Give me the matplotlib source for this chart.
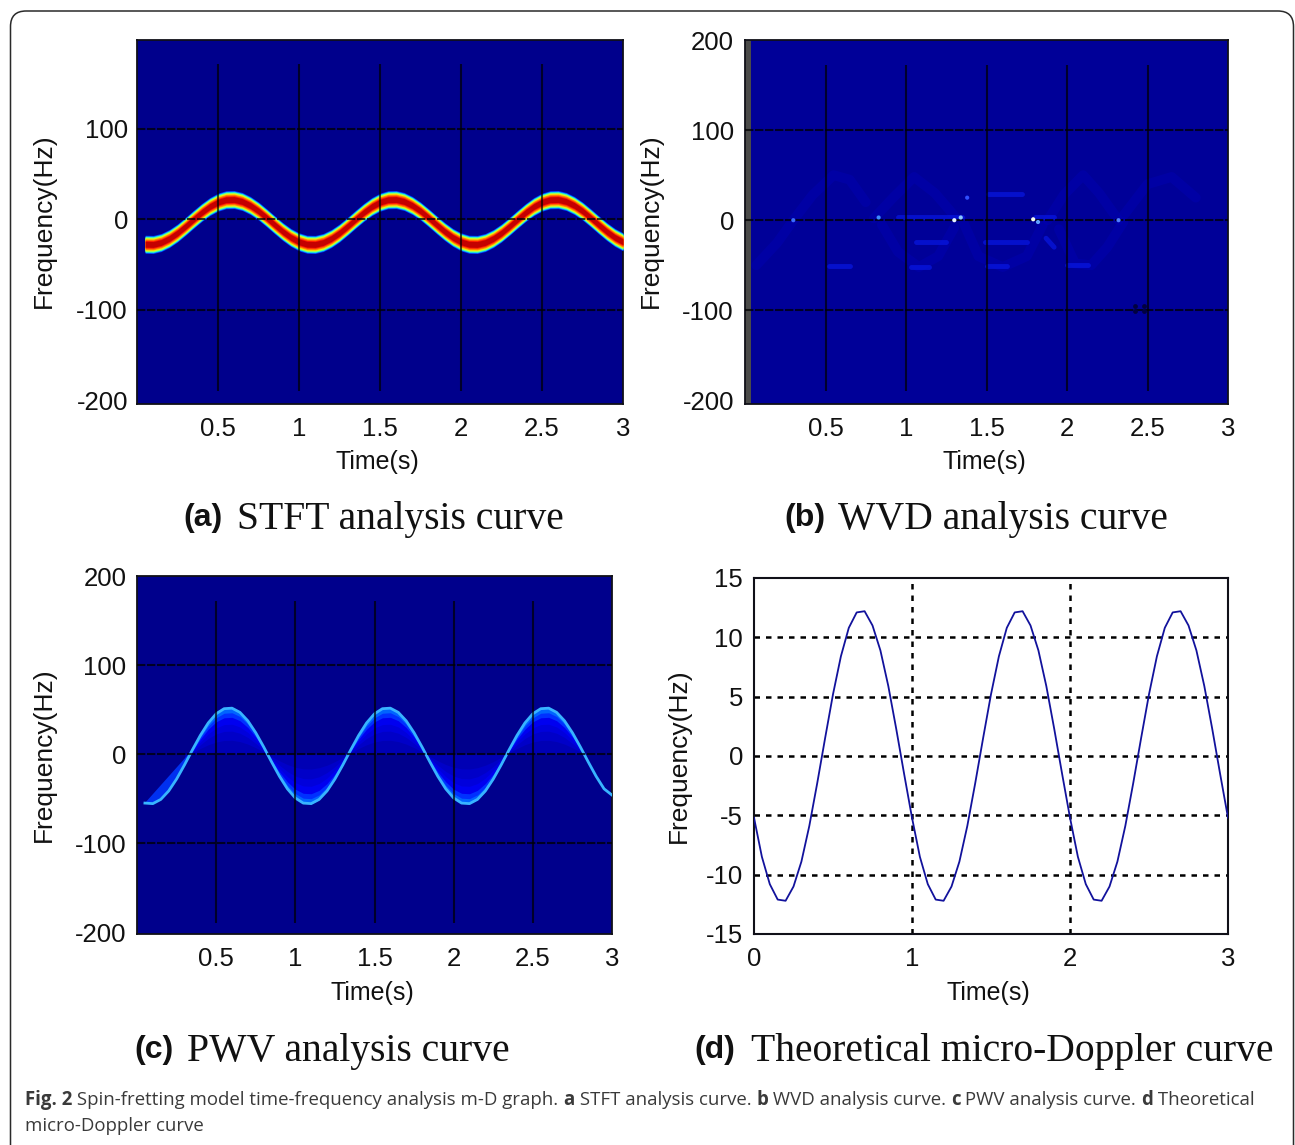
import numpy as np
import matplotlib
matplotlib.use("Agg")
import matplotlib.pyplot as plt
from matplotlib.patches import FancyBboxPatch

W, H = 1295, 1145

time_stft = [0.05 * i for i in range(1, 61)]
stft_ridge = [-27.6, -27.8, -25.6, -21.2, -15.1, -7.7, 0.1, 7.6, 14.1, 18.9, 21.6, 21.8, 19.6, 15.2, 9.1, 1.7,
              -6.1, -13.6, -20.1, -24.9, -27.6, -27.8, -25.6, -21.2, -15.1, -7.7, 0.1, 7.6, 14.1, 18.9, 21.6,
              21.8, 19.6, 15.2, 9.1, 1.7, -6.1, -13.6, -20.1, -24.9, -27.6, -27.8, -25.6, -21.2, -15.1, -7.7,
              0.1, 7.6, 14.1, 18.9, 21.6, 21.8, 19.6, 15.2, 9.1, 1.7, -6.1, -13.6, -20.1, -24.9]

pwv_ridge = [-55.0, -55.6, -50.9, -41.4, -28.0, -12.1, 4.8, 21.0, 35.0, 45.3, 51.0, 51.6, 46.9, 37.4, 24.0, 8.1,
             -8.8, -25.0, -39.0, -49.3, -55.0, -55.6, -50.9, -41.4, -28.0, -12.1, 4.8, 21.0, 35.0, 45.3, 51.0,
             51.6, 46.9, 37.4, 24.0, 8.1, -8.8, -25.0, -39.0, -49.3, -55.0, -55.6, -50.9, -41.4, -28.0, -12.1,
             4.8, 21.0, 35.0, 45.3, 51.0, 51.6, 46.9, 37.4, 24.0, 8.1, -8.8, -25.0, -39.0, -46.0]

time_theory = [0.05 * i for i in range(0, 61)]
theory_curve = [-5.2, -8.5, -10.8, -12.1, -12.2, -11.0, -8.9, -5.9, -2.3, 1.5, 5.2, 8.4, 10.8, 12.1, 12.2, 11.0,
                8.9, 5.9, 2.3, -1.5, -5.2, -8.5, -10.8, -12.1, -12.2, -11.0, -8.9, -5.9, -2.3, 1.5, 5.2, 8.4,
                10.8, 12.1, 12.2, 11.0, 8.9, 5.9, 2.3, -1.5, -5.2, -8.5, -10.8, -12.1, -12.2, -11.0, -8.9, -5.9,
                -2.3, 1.5, 5.2, 8.4, 10.8, 12.1, 12.2, 11.0, 8.9, 5.9, 2.3, -1.5, -5.2]

# faint traces in the WVD panel, (t, f)
wvd_faint = [
    ([0.07, 0.2, 0.3, 0.42, 0.55, 0.65, 0.75], [-50, -25, 0, 28, 50, 45, 20]),
    ([0.8, 0.92, 1.05, 1.18, 1.3], [2, 25, 48, 30, 5]),
    ([0.85, 0.95, 1.08, 1.2, 1.3], [-5, -35, -52, -40, -8]),
    ([1.35, 1.45, 1.6, 1.75, 1.85], [0, -40, -52, -40, -5]),
    ([1.88, 1.98, 2.1, 2.2, 2.32], [0, 28, 50, 30, 0]),
    ([1.95, 2.05, 2.15, 2.25, 2.35], [-10, -48, -50, -30, -2]),
    ([2.35, 2.5, 2.65, 2.8], [5, 40, 48, 25]),
]
wvd_bright_t = [[0.52, 0.65], [1.03, 1.14], [1.5, 1.63], [2.0, 2.13], [1.51, 1.72], [1.06, 1.25], [1.49, 1.75],
                [1.8, 1.92], [0.95, 1.35], [1.87, 1.92]]
wvd_bright_f = [[-51, -51], [-52, -52], [-51, -51], [-50, -50], [29, 29], [-24, -24], [-24, -24], [3, 3], [3, 3],
                [-20, -30]]
wvd_spots_t = [0.3, 0.83, 1.3, 1.34, 1.79, 1.82, 2.32, 1.38]
wvd_spots_f = [0, 3, 0, 3, 1, -2, 0, 25]
wvd_spots_c = ['#3c6cff', '#3c8cff', '#e8f4ff', '#8cc8ff', '#f8fff0', '#60a0ff', '#5080ff', '#3050ff']
wvd_dark_t = [2.42, 2.48, 2.42, 2.48]
wvd_dark_f = [-95, -95, -101, -101]

sgram_xticks = [0.5, 1, 1.5, 2, 2.5, 3]
sgram_xlabels = ['0.5', '1', '1.5', '2', '2.5', '3']
theory_yticks = [-15, -10, -5, 0, 5, 10, 15]

plt.rcParams['font.family'] = ['Liberation Sans', 'DejaVu Sans']
plt.rcParams['axes.unicode_minus'] = False
fig = plt.figure(figsize=(W / 100, H / 100), dpi=100, facecolor='white')


def make_axes(left, right, top, bottom):
    return fig.add_axes([left / W, 1 - bottom / H, (right - left) / W, (bottom - top) / H])


def style_axes(ax, xlim, ylim, xticks, xlabels, yticks, ypad, bg):
    ax.set_facecolor(bg)
    ax.set_xlim(*xlim)
    ax.set_ylim(*ylim)
    ax.set_xticks(xticks)
    ax.set_xticklabels(xlabels)
    ax.set_yticks(yticks)
    ax.tick_params(axis='x', length=0, labelsize=18.5, pad=9, labelcolor='#111111')
    ax.tick_params(axis='y', length=0, labelsize=18.5, pad=ypad, labelcolor='#111111')
    for s in ax.spines.values():
        s.set_linewidth(1.3)
        s.set_color('#101018')


def sgram_grid(ax, ys, xs, vmin, vmax):
    ax.hlines(ys, 0, 3, color='black', lw=1.5, alpha=0.75, linestyles=(0, (4, 0.8)), zorder=6)
    ax.vlines(xs, vmin, vmax, color='black', lw=1.5, alpha=0.7, zorder=6)


def labels(xlab_x, xlab_y, ylab_x, ylab_y):
    fig.text(xlab_x / W, 1 - xlab_y / H, 'Time(s)', fontsize=18, ha='center', va='center', color='#111111')
    fig.text(ylab_x / W, 1 - ylab_y / H, 'Frequency(Hz)', fontsize=19, rotation=90, ha='center', va='center',
             color='#111111')


def title(letter, x1, text, x2, y):
    fig.text(x1 / W, 1 - (y - 1) / H, letter, fontsize=23, fontweight='bold', va='center', ha='left', color='#111111')
    fig.text(x2 / W, 1 - y / H, text, fontsize=28.5, family='Liberation Serif', va='center', ha='left',
             color='#111111')


# (a) STFT
ax_a = make_axes(137, 623, 40, 404)
style_axes(ax_a, (0, 3), (-204, 198), sgram_xticks, sgram_xlabels, [-200, -100, 0, 100], 6.5, '#00008c')
half_widths = [10.0, 9.2, 8.5, 7.9, 7.3, 6.7, 6.0, 5.2, 4.2, 3.2]
cmap = plt.get_cmap('jet')
levels = [0.18, 0.3, 0.42, 0.5, 0.58, 0.66, 0.74, 0.8, 0.88, 0.94]
for hw, lev in zip(half_widths, levels):
    ax_a.fill_between(time_stft, np.array(stft_ridge) - hw, np.array(stft_ridge) + hw, color=cmap(lev), lw=0, zorder=3)
sgram_grid(ax_a, [-100, 0, 100], [0.5, 1, 1.5, 2, 2.5], -190, 172)
labels(377, 462, 44, 221)
title('(a)', 183, 'STFT analysis curve', 237, 519)

# (b) WVD
ax_b = make_axes(745, 1228, 40, 404)
style_axes(ax_b, (0, 3), (-204, 198), sgram_xticks, sgram_xlabels, [-200, -100, 0, 100, 200], 8, '#000098')
ax_b.axvspan(0, 0.035, color='#4a4a48', lw=0, zorder=2)
for t, f in wvd_faint:
    ax_b.plot(t, f, color='#0000b8', lw=7, alpha=0.4, zorder=3, solid_capstyle='round')
for t, f in zip(wvd_bright_t, wvd_bright_f):
    ax_b.plot(t, f, color='#0a1cf0', lw=3.5, alpha=0.6, zorder=4, solid_capstyle='round')
sgram_grid(ax_b, [-100, 0, 100], [0.5, 1, 1.5, 2, 2.5], -190, 172)
ax_b.scatter(wvd_spots_t, wvd_spots_f, s=9, c=wvd_spots_c, lw=0, zorder=7)
ax_b.scatter(wvd_dark_t, wvd_dark_f, s=12, color='#000040', lw=0, zorder=7)
labels(984, 462, 651, 221)
title('(b)', 784, 'WVD analysis curve', 838, 519)

# (c) PWV
ax_c = make_axes(137, 612, 576, 934)
style_axes(ax_c, (0, 3), (-202, 200), sgram_xticks, sgram_xlabels, [-200, -100, 0, 100, 200], 7.5, '#00008c')
t_c = np.array(time_stft)
r_c = np.array(pwv_ridge)
body = (t_c >= 0.3) & (t_c < 2.85)
first = t_c < 0.36
for frac, col in zip([0.0, 0.3, 0.5, 0.65, 0.8, 0.9], ['#0000b4', '#0000c8', '#0000dc', '#0000f0', '#0030ff', '#0064ff']):
    ax_c.fill_between(t_c[body], r_c[body], r_c[body] * frac, color=col, lw=0, zorder=3)
# sliver under the first rising flank closes on a chord, not on the zero line
ax_c.fill(t_c[first], r_c[first], color='#0030f0', lw=0, zorder=3)
ax_c.plot(t_c, r_c, color='#38b4ff', lw=2.0, zorder=4)
sgram_grid(ax_c, [-100, 0, 100], [0.5, 1, 1.5, 2, 2.5], -190, 172)
labels(372, 993, 44, 755)
title('(c)', 134, 'PWV analysis curve', 187, 1051)

# (d) theoretical curve
ax_d = make_axes(754, 1228, 578, 934)
style_axes(ax_d, (0, 3), (-15, 15), [0, 1, 2, 3], ['0', '1', '2', '3'], theory_yticks, 8, 'white')
ax_d.hlines(theory_yticks[1:-1], 0, 3, color='black', lw=1.8, linestyles=(0, (2.2, 2.4)), zorder=1)
ax_d.vlines([1, 2], -15, 15, color='black', lw=1.8, linestyles=(0, (2.2, 2.4)), zorder=1)
ax_d.plot(time_theory, theory_curve, color='#12129c', lw=1.3, zorder=3)
for s in ax_d.spines.values():
    s.set_linewidth(1.5)
labels(988, 993, 679, 756)
title('(d)', 694, 'Theoretical micro-Doppler curve', 751, 1051)

# outer rounded frame
frame = FancyBboxPatch((10.5 / W, 1 - 1190 / H), 1283 / W, 1179 / H, boxstyle='round,pad=0,rounding_size=0.012',
                       transform=fig.transFigure, fc='none', ec='#2a2a2a', lw=1.1, mutation_aspect=W / H)
fig.add_artist(frame)

# caption
caption1 = [('Fig. 2', True), (' Spin-fretting model time-frequency analysis m-D graph. ', False), ('a', True),
            (' STFT analysis curve. ', False), ('b', True), (' WVD analysis curve. ', False), ('c', True),
            (' PWV analysis curve. ', False), ('d', True), (' Theoretical', False)]
renderer = fig.canvas.get_renderer()
x = 25.0
for s, bold in caption1:
    t = fig.text(x / W, 1 - 1100 / H, s, fontsize=13.4, family='Open Sans', fontweight='bold' if bold else 'normal',
                 va='center', ha='left', color='#3a3a3a')
    t.set_text(s.replace(' ', '\u00a0'))
    x = t.get_window_extent(renderer).x1
fig.text(25 / W, 1 - 1126 / H, 'micro-Doppler curve', fontsize=13.4, family='Open Sans', va='center', ha='left',
         color='#3a3a3a')

fig.savefig('out.png', dpi=100)
